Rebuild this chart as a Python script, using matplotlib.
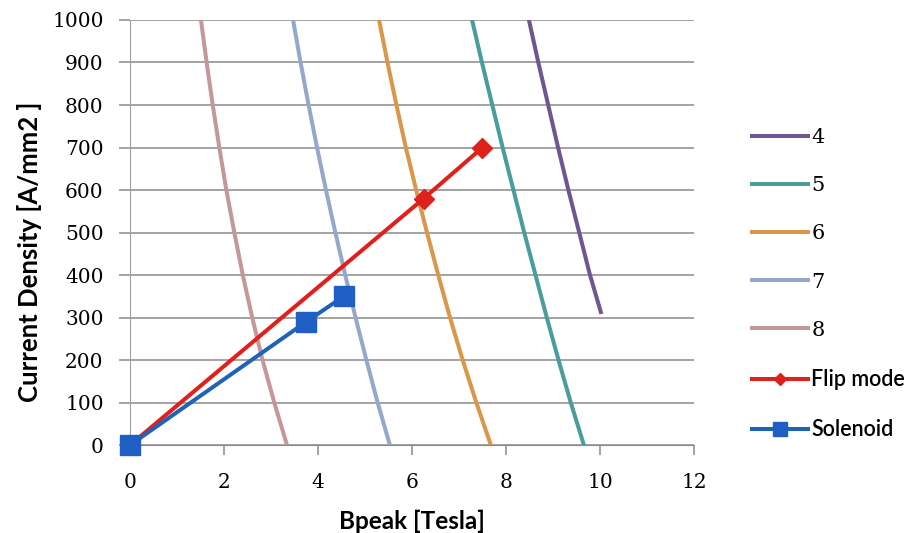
import matplotlib.pyplot as plt
import numpy as np

# lignes de contour (Bpeak vs densité de courant)
y_levels = [1000, 900, 800, 700, 600, 500, 400, 300, 200, 100, 0]
x_8 = [1.51, 1.63, 1.76, 1.90, 2.05, 2.22, 2.40, 2.60, 2.82, 3.07, 3.34]
x_7 = [3.47, 3.63, 3.80, 3.98, 4.17, 4.37, 4.58, 4.80, 5.03, 5.27, 5.53]
x_6 = [5.30, 5.48, 5.67, 5.87, 6.09, 6.32, 6.56, 6.81, 7.08, 7.37, 7.68]
x_5 = [7.28, 7.49, 7.71, 7.93, 8.16, 8.39, 8.63, 8.87, 9.12, 9.38, 9.66]
y_4 = [1000, 900, 800, 700, 600, 500, 400, 313]
x_4 = [8.49, 8.69, 8.90, 9.11, 9.33, 9.56, 9.79, 10.02]

flip_x = [0, 6.25, 7.5]
flip_y = [0, 580, 700]
sol_x = [0, 3.75, 4.55]
sol_y = [0, 290, 350]

fig = plt.figure(figsize=(9.19, 5.33), dpi=100)
ax = fig.add_axes([0.1415, 0.165, 0.6135, 0.7975])

lw = 2.9
ax.plot(x_4, y_4, color='#6f5690', lw=lw, label='4')
ax.plot(x_5, y_levels, color='#4a9c9e', lw=lw, label='5')
ax.plot(x_6, y_levels, color='#d9974c', lw=lw, label='6')
ax.plot(x_7, y_levels, color='#94a8cc', lw=lw, label='7')
ax.plot(x_8, y_levels, color='#c4989a', lw=lw, label='8')
ax.plot(flip_x, flip_y, color='#e0201a', lw=lw, marker='D', ms=10,
        label='Flip mode', clip_on=False, zorder=5)
ax.plot(sol_x, sol_y, color='#1f63b8', lw=lw, marker='s', ms=15,
        mfc='#1f5fc4', mec='#1f5fc4', label='Solenoid', clip_on=False, zorder=6)

ax.set_xlim(0, 12)
ax.set_ylim(0, 1000)
ax.set_xticks(np.arange(0, 13, 2))
ax.set_yticks(np.arange(0, 1001, 100))
ax.yaxis.grid(True, color='#8a8a8a', lw=1.1)
ax.set_axisbelow(True)
for s in ['top', 'right']:
    ax.spines[s].set_visible(False)
ax.spines['left'].set_color('#a0a0a0')
ax.spines['bottom'].set_color('#8a8a8a')
ax.tick_params(axis='y', length=8, color='#8a8a8a', width=1.1, pad=11)
ax.tick_params(axis='x', length=7, color='#8a8a8a', width=1.1, pad=13)
for lab in ax.get_xticklabels() + ax.get_yticklabels():
    lab.set_fontfamily('DejaVu Serif')
    lab.set_fontsize(14.5)

ax.set_xlabel('Bpeak [Tesla]', fontfamily='Lato', fontweight='bold',
              fontsize=17.5, labelpad=13)
ax.set_ylabel('Current Density [A/mm2 ]', fontfamily='Lato',
              fontweight='bold', fontsize=18.5)
ax.yaxis.set_label_coords(-0.157, 0.455)

leg = fig.legend(loc='upper left', bbox_to_anchor=(0.798, 0.795), frameon=False,
                 prop={'family': 'DejaVu Serif', 'size': 15},
                 handlelength=2.7, handletextpad=0.15, labelspacing=1.4,
                 markerscale=0.65)
for t in leg.get_texts():
    if not t.get_text().isdigit():
        t.set_fontfamily('Lato')
        t.set_fontsize(15.5)
        t.set_fontweight('semibold')

plt.savefig('out.png', dpi=100)
